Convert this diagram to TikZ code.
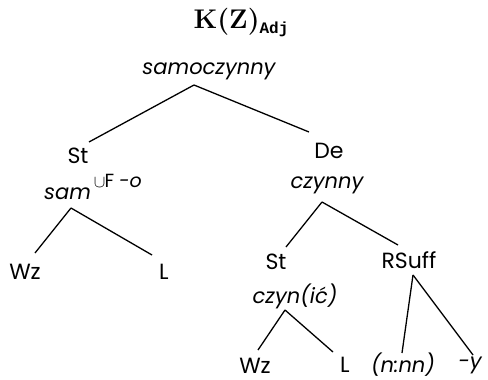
\documentclass[tikz,border=0pt]{standalone}
\usepackage{fontspec}
\newfontfamily\treefont{Poppins}
\newfontfamily\adjfont{Liberation Mono}
\begin{document}
\begin{tikzpicture}[x=1pt,y=-1pt,
    lab/.style={font=\treefont\fontsize{22}{22}\selectfont, inner sep=0pt},
    wd/.style={font=\treefont\itshape\fontsize{21}{21}\selectfont, inner sep=0pt},
    br/.style={line width=1.3pt}]
  \useasboundingbox (0,0) rectangle (488,380);

  % title
  \node (title) at (241,23) {\fontsize{27}{27}\selectfont\bfseries K(Z)\raisebox{-5pt}{\adjfont\bfseries\fontsize{16}{16}\selectfont Adj}};

  % top level
  \node[wd] (w0) at (209,71) {samoczynny};
  \coordinate (a0) at (194,85);
  \node[lab] (st1) at (78,156) {St};
  \node[lab] (de) at (329,151) {De};
  \draw[br] (a0) -- (89,142);
  \draw[br] (a0) -- (309,132);

  % left branch
  \node[wd, anchor=base west] (w1) at (44,199) {sam\raisebox{12pt}{\upshape\fontsize{19}{19}\selectfont\kern3pt$\cup$\kern-1pt F \itshape -o}};
  \coordinate (a1) at (71,208);
  \node[lab] (wz1) at (25,272) {Wz};
  \node[lab] (l1) at (164,272) {L};
  \draw[br] (a1) -- (35,253);
  \draw[br] (a1) -- (152,255);

  % right branch
  \node[wd] (w2) at (327,185) {czynny};
  \coordinate (a2) at (322,202);
  \node[lab] (st2) at (276,262) {St};
  \node[lab] (rs) at (409,260) {RSuff};
  \draw[br] (a2) -- (286,247);
  \draw[br] (a2) -- (398,245);

  \node[wd] (w3) at (295,296) {czyn(ić)};
  \coordinate (a3) at (285,310);
  \node[lab] (wz2) at (255,366) {Wz};
  \node[lab] (l2) at (345,365) {L};
  \draw[br] (a3) -- (258,350);
  \draw[br] (a3) -- (333,352);

  \coordinate (a4) at (413,275);
  \node[wd] (nn) at (403,365) {(n:nn)};
  \node[wd] (y) at (470,365) {-y};
  \draw[br] (a4) -- (402,353);
  \draw[br] (a4) -- (473,355);
\end{tikzpicture}
\end{document}
